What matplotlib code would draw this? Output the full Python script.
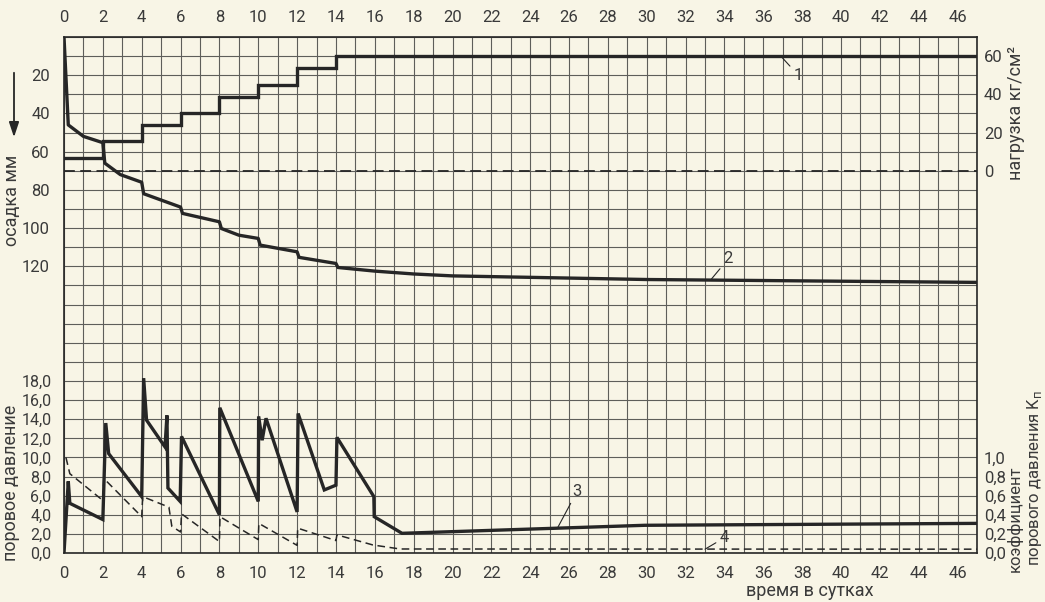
import numpy as np
import matplotlib
matplotlib.use("Agg")
import matplotlib.pyplot as plt

# ---- data -----------------------------------------------------------
day_ticks = list(range(0, 47, 2))

# 1: load, kg/cm2 (stepwise, applied every second day)
load_days = [0, 2, 4, 6, 8, 10, 12, 14, 47]
load_vals = [6.5, 15.5, 24, 30, 38.5, 45, 54, 60, 60]

# 2: settlement, mm
settle_days = [0, 0.22, 1.0, 2.0, 2.1, 2.9, 4.0, 4.1, 6.0, 6.1, 8.0, 8.1, 9.0,
               10.0, 10.1, 12.0, 12.1, 14.0, 14.1, 16.0, 18.0, 20.0, 30.0, 47.0]
settle_vals = [0, 46, 52, 55.3, 66, 72, 76, 82, 89, 92.3, 96.7, 100.2, 103.7,
               105.4, 108.9, 112.4, 115.3, 118.5, 120.6, 122.5, 124, 125, 126.9, 128.4]

# 3: pore pressure
pore_days = [0, 0.22, 0.3, 2.0, 2.15, 2.3, 4.0, 4.1, 4.25, 5.2, 5.3, 5.35, 5.98,
             6.05, 8.0, 8.02, 10.0, 10.02, 10.2, 10.4, 12.0, 12.05, 13.4, 14.0,
             14.05, 15.95, 15.97, 17.4, 29.9, 47.0]
pore_vals = [0, 7.5, 5.2, 3.5, 13.6, 10.4, 5.9, 18.3, 13.9, 11.1, 14.4, 6.8, 5.4,
             12.2, 4.0, 15.2, 5.4, 14.3, 11.8, 14.1, 4.3, 14.6, 6.6, 7.1,
             12.1, 5.9, 3.8, 2.06, 2.9, 3.1]

# 4: pore pressure coefficient K_p
coef_days = [0.1, 0.3, 2.0, 2.05, 4.0, 4.05, 5.4, 5.55, 6.0, 6.05, 8.0, 8.03,
             10.0, 10.03, 12.0, 12.03, 14.0, 14.05, 15.9, 17.3, 47.0]
coef_vals = [1.0, 0.83, 0.55, 0.78, 0.38, 0.59, 0.48, 0.28, 0.22, 0.41, 0.12, 0.38,
             0.14, 0.31, 0.08, 0.26, 0.13, 0.19, 0.084, 0.042, 0.04]

settle_ticks = [20, 40, 60, 80, 100, 120]
pore_ticks = [0, 2, 4, 6, 8, 10, 12, 14, 16, 18]
pore_labels = ["0,0", "2,0", "4,0", "6,0", "8,0", "10,0", "12,0", "14,0", "16,0", "18,0"]
load_ticks = [0, 20, 40, 60]
coef_ticks = [0, 0.2, 0.4, 0.6, 0.8, 1.0]
coef_labels = ["0,0", "0,2", "0,4", "0,6", "0,8", "1,0"]

# ---- style ----------------------------------------------------------
W, H = 1045, 602
paper = "#f8f5e6"
ink = "#262626"
grid_c = "#5e5e5a"
txt_c = "#3a3a3a"
plt.rcParams["font.family"] = ["Roboto", "DejaVu Sans"]
plt.rcParams["font.size"] = 12


def fx(x):
    return x / W


def fy(y):
    return 1 - y / H


fig = plt.figure(figsize=(W / 100, H / 100), dpi=100, facecolor=paper)
left, right, top, bottom = 64, 977, 37, 553
ax = fig.add_axes([fx(left), fy(bottom), fx(right - left), (bottom - top) / H])
ax.set_facecolor(paper)

# pore pressure axis (also carries the grid and the day scale)
ax.set_xlim(0, 47)
ax.set_ylim(0, 54)
ax.set_xticks(day_ticks)
ax.set_xticks(np.arange(0, 48, 1), minor=True)
ax.set_yticks(pore_ticks)
ax.set_yticklabels(pore_labels)
ax.set_yticks(np.arange(0, 55, 2), minor=True)
ax.grid(which="both", color=grid_c, lw=0.8)
ax.tick_params(axis="x", which="both", length=0, top=True, labeltop=True,
               labelcolor=txt_c, labelsize=12)
ax.tick_params(axis="x", which="major", pad=9)
ax.tick_params(axis="y", which="both", length=0, pad=9, labelcolor=txt_c, labelsize=11.5)
for sp in ax.spines.values():
    sp.set_color(ink)
    sp.set_linewidth(1.2)
ax.set_axisbelow(True)

# settlement axis (left, inverted)
ax_s = ax.twinx()
ax_s.set_ylim(270, 0)
ax_s.yaxis.tick_left()
ax_s.set_yticks(settle_ticks)
ax_s.tick_params(axis="y", length=0, pad=10, labelcolor=txt_c, labelsize=12)

# load axis (right)
ax_l = ax.twinx()
ax_l.set_ylim(-200, 70)
ax_l.set_yticks(load_ticks)
ax_l.tick_params(axis="y", length=0, pad=5, labelcolor=txt_c, labelsize=12)

# coefficient axis (right)
ax_k = ax.twinx()
ax_k.set_ylim(0, 5.4)
ax_k.set_yticks(coef_ticks)
ax_k.set_yticklabels(coef_labels)
ax_k.tick_params(axis="y", length=0, pad=5, labelcolor=txt_c, labelsize=12)

for a in (ax_s, ax_l, ax_k):
    for sp in a.spines.values():
        sp.set_visible(False)

# curves
ax_l.axhline(0, color=ink, lw=1.3, ls=(0, (6, 3)))
ax_l.plot(load_days, load_vals, drawstyle="steps-post", color=ink, lw=2.4,
          solid_joinstyle="miter")
ax_s.plot(settle_days, settle_vals, color=ink, lw=2.4)
ax.plot(pore_days, pore_vals, color=ink, lw=2.4, solid_joinstyle="miter")
ax_k.plot(coef_days, coef_vals, color=ink, lw=1.1, ls=(0, (5, 3)))

# curve numbers with leader lines
lead = dict(arrowstyle="-", color=ink, lw=0.8, shrinkA=1, shrinkB=0)
ax_l.annotate("1", xy=(36.9, 60), xytext=(37.8, 50), color=txt_c, fontsize=12,
              ha="center", va="center", arrowprops=lead)
ax_s.annotate("2", xy=(33.3, 127), xytext=(34.2, 116), color=txt_c, fontsize=12,
              ha="center", va="center", arrowprops=lead)
ax.annotate("3", xy=(25.4, 2.6), xytext=(26.4, 6.4), color=txt_c, fontsize=12,
            ha="center", va="center", arrowprops=lead)
ax_k.annotate("4", xy=(33.0, 0.04), xytext=(34.0, 0.16), color=txt_c, fontsize=12,
              ha="center", va="center", arrowprops=lead)

# axis titles
fig.text(fx(12), fy(200), "осадка мм", rotation=90, ha="center", va="center",
         color=txt_c, fontsize=13)
fig.text(fx(11), fy(483), "поровое давление", rotation=90, ha="center", va="center",
         color=txt_c, fontsize=13)
fig.text(fx(1016), fy(113), "нагрузка кг/см²", rotation=90, ha="center", va="center",
         color=txt_c, fontsize=13)
fig.text(fx(1015), fy(519), "коэффициент", rotation=90, ha="center", va="center",
         color=txt_c, fontsize=12)
fig.text(fx(1035), fy(478), "порового давления K$_{\\mathrm{п}}$", rotation=90,
         ha="center", va="center", color=txt_c, fontsize=12)
fig.text(fx(810), fy(591), "время в сутках", ha="center", va="center",
         color=txt_c, fontsize=13)

# downward arrow next to the settlement title
fig.add_artist(matplotlib.patches.FancyArrowPatch(
    (fx(14), fy(70)), (fx(14), fy(140)), transform=fig.transFigure,
    arrowstyle="-|>,head_length=9,head_width=3", color=ink, lw=1.3))

fig.savefig("out.png", dpi=100, facecolor=paper)
